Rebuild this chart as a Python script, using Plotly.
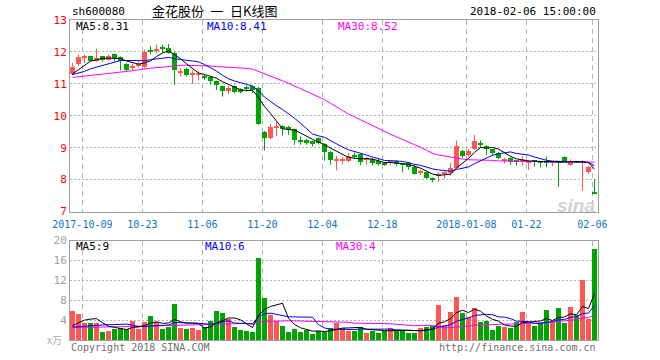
import plotly.graph_objects as go
import pandas as pd

# ---------------- data ----------------
opens = [11.31, 11.63, 11.82, 11.86, 11.73, 11.87, 11.76, 11.92, 11.84, 11.62,
         11.50, 11.55, 11.53, 12.05, 12.05, 12.14, 12.13, 11.97, 11.35, 11.48,
         11.30, 11.30, 11.21, 11.20, 11.09, 10.92, 10.76, 10.92, 10.84, 10.87,
         10.92, 10.86, 9.50, 9.30, 9.61, 9.68, 9.62, 9.58, 9.20, 9.24,
         9.20, 9.30, 9.12, 8.88, 8.59, 8.59, 8.57, 8.76, 8.80, 8.63,
         8.65, 8.57, 8.52, 8.54, 8.57, 8.50, 8.52, 8.40, 8.22, 8.23,
         8.01, 8.10, 8.16, 8.22, 8.36, 8.90, 8.78, 8.95, 9.13, 9.05,
         8.95, 8.83, 8.60, 8.69, 8.59, 8.54, 8.55, 8.59, 8.55, 8.57,
         8.54, 8.56, 8.71, 8.46, 8.57, 8.53, 8.25, 7.58]
highs = [11.65, 11.92, 11.92, 11.88, 12.10, 11.88, 11.92, 11.94, 11.86, 11.65,
         11.63, 11.70, 12.07, 12.18, 12.23, 12.23, 12.25, 12.00, 11.50, 11.50,
         11.42, 11.39, 11.28, 11.22, 11.10, 10.94, 10.92, 10.95, 10.86, 10.95,
         10.94, 10.90, 9.52, 9.74, 9.80, 9.70, 9.68, 9.60, 9.35, 9.28,
         9.22, 9.32, 9.14, 8.90, 8.75, 8.71, 8.83, 8.85, 8.82, 8.71,
         8.68, 8.65, 8.54, 8.60, 8.60, 8.52, 8.55, 8.47, 8.31, 8.25,
         8.07, 8.23, 8.26, 8.52, 9.22, 8.93, 8.96, 9.40, 9.23, 9.08,
         8.97, 8.86, 8.69, 8.70, 8.61, 8.73, 8.62, 8.61, 8.57, 8.72,
         8.58, 8.58, 8.73, 8.63, 8.59, 8.61, 8.43, 8.01]
lows = [11.27, 11.55, 11.65, 11.71, 11.69, 11.69, 11.73, 11.71, 11.42, 11.39,
        11.42, 11.50, 11.50, 11.92, 11.97, 11.97, 11.94, 10.97, 11.23, 11.23,
        10.99, 11.11, 11.12, 10.97, 10.81, 10.60, 10.68, 10.70, 10.70, 10.76,
        10.71, 9.71, 8.91, 9.27, 9.37, 9.38, 9.40, 9.09, 9.09, 9.09,
        9.03, 9.10, 8.59, 8.47, 8.29, 8.47, 8.55, 8.65, 8.45, 8.47,
        8.44, 8.44, 8.43, 8.45, 8.42, 8.23, 8.31, 8.16, 8.14, 8.02,
        7.92, 7.92, 8.02, 8.12, 8.33, 8.68, 8.72, 8.93, 9.02, 8.77,
        8.74, 8.64, 8.51, 8.47, 8.44, 8.44, 8.30, 8.41, 8.38, 8.38,
        8.42, 7.77, 8.56, 8.44, 8.52, 7.65, 8.17, 7.55]
closes = [11.53, 11.83, 11.86, 11.73, 11.81, 11.76, 11.87, 11.81, 11.71, 11.42,
          11.53, 11.62, 12.00, 12.03, 12.08, 12.10, 11.97, 11.42, 11.37, 11.27,
          11.32, 11.32, 11.19, 11.09, 10.97, 10.76, 10.86, 10.74, 10.74, 10.85,
          10.81, 9.74, 9.30, 9.66, 9.69, 9.58, 9.60, 9.24, 9.19, 9.14,
          9.14, 9.16, 8.87, 8.62, 8.61, 8.62, 8.75, 8.74, 8.54, 8.65,
          8.52, 8.50, 8.45, 8.56, 8.50, 8.47, 8.40, 8.18, 8.24, 8.05,
          8.00, 8.19, 8.23, 8.37, 9.04, 8.75, 8.91, 9.21, 9.11, 8.97,
          8.82, 8.67, 8.62, 8.56, 8.57, 8.61, 8.57, 8.57, 8.52, 8.54,
          8.55, 8.54, 8.57, 8.58, 8.56, 8.55, 8.38, 7.55]
volumes = [5.86, 5.26, 3.46, 3.46, 3.46, 1.66, 1.86, 2.26, 2.46, 2.26,
           3.86, 2.26, 3.66, 4.86, 3.66, 2.26, 2.66, 7.26, 2.46, 2.26,
           2.46, 2.06, 2.66, 3.86, 5.86, 5.46, 4.26, 2.66, 2.06, 1.86,
           1.66, 16.66, 8.46, 5.06, 3.86, 2.86, 1.66, 2.26, 1.66, 2.06,
           1.26, 1.86, 1.66, 2.46, 3.50, 2.50, 2.00, 2.00, 2.70, 1.50,
           1.90, 1.50, 1.90, 2.50, 1.90, 1.90, 1.50, 1.50, 2.50, 2.70,
           3.00, 7.07, 3.07, 5.67, 8.67, 5.47, 4.67, 6.47, 3.67, 3.87,
           2.07, 2.87, 2.67, 2.47, 3.67, 5.67, 3.47, 2.87, 3.47, 6.07,
           3.67, 6.47, 3.47, 6.67, 5.07, 12.07, 4.27, 18.47]

# moving-average values at the left edge (window reaches before the chart)
ma5_head = [11.31, 11.44, 11.58, 11.71]
ma10_head = [11.29, 11.34, 11.39, 11.47, 11.52, 11.56, 11.62, 11.68, 11.73]
ma30_head = [11.20, 11.22, 11.24, 11.25, 11.27, 11.29, 11.31, 11.33, 11.36, 11.38,
             11.41, 11.44, 11.47, 11.49, 11.51, 11.52, 11.54, 11.57, 11.58, 11.58,
             11.58, 11.57, 11.57, 11.56, 11.54, 11.53, 11.53, 11.51, 11.50]
vma5_head = [2.9, 3.5, 4.0, 4.2]
vma10_head = [2.6, 2.7, 2.8, 2.9, 3.0, 3.05, 3.1, 3.1, 3.15]
vma30_head = [2.5, 2.5, 2.55, 2.55, 2.6, 2.6, 2.62, 2.65, 2.68, 2.7,
              2.72, 2.75, 2.78, 2.8, 2.82, 2.85, 2.88, 2.92, 2.95, 2.98,
              3.0, 3.03, 3.06, 3.1, 3.14, 3.18, 3.22, 3.26, 3.3]

tick_index = [2, 12, 22, 32, 42, 52, 66, 76, 87]
tick_labels = ["2017-10-09", "10-23", "11-06", "11-20", "12-04", "12-18",
               "2018-01-08", "01-22", "02-06"]
price_ticks = [7, 8, 9, 10, 11, 12, 13]
vol_ticks = [4, 8, 12, 16, 20]

ma_labels = ["MA5:8.31", "MA10:8.41", "MA30:8.52"]
vol_ma_labels = ["MA5:9", "MA10:6", "MA30:4"]

# ---------------- styling ----------------
RED = "#FF5656"
GREEN = "#00A400"
GRID = "#B4B4B4"
BORDER = "#A0A0A0"
MONO = "DejaVu Sans Mono"

n = len(closes)
idx = list(range(n))
up = [c >= o for o, c in zip(opens, closes)]
colors = [RED if u else GREEN for u in up]


def moving(vals, w, head):
    s = pd.Series(vals).rolling(w).mean().tolist()
    return list(head) + s[w - 1:]


ma5 = moving(closes, 5, ma5_head)
ma10 = moving(closes, 10, ma10_head)
ma30 = moving(closes, 30, ma30_head)
vma5 = moving(volumes, 5, vma5_head)
vma10 = moving(volumes, 10, vma10_head)
vma30 = moving(volumes, 30, vma30_head)

fig = go.Figure()

# wicks
for col in (RED, GREEN):
    xs, ys = [], []
    for i in idx:
        if colors[i] == col:
            xs += [i, i, None]
            ys += [lows[i], highs[i], None]
    fig.add_trace(go.Scatter(x=xs, y=ys, mode="lines", line=dict(color=col, width=1),
                             hoverinfo="skip", showlegend=False, xaxis="x", yaxis="y"))

# bodies
body_base = []
body_h = []
for o, c in zip(opens, closes):
    h = abs(c - o)
    if h < 0.03:
        body_base.append(min(o, c) - (0.03 - h) / 2)
        body_h.append(0.03)
    else:
        body_base.append(min(o, c))
        body_h.append(h)
fig.add_trace(go.Bar(x=idx, y=body_h, base=body_base, width=5 / 6,
                     marker=dict(color=colors, line=dict(width=0)),
                     showlegend=False, xaxis="x", yaxis="y"))

# price MAs
for vals, col in ((ma30, "#FF00FF"), (ma10, "#0000FF"), (ma5, "#000000")):
    fig.add_trace(go.Scatter(x=idx, y=vals, mode="lines", line=dict(color=col, width=1),
                             showlegend=False, xaxis="x", yaxis="y"))

# volume
fig.add_trace(go.Bar(x=idx, y=volumes, width=5 / 6,
                     marker=dict(color=colors, line=dict(width=0)),
                     showlegend=False, xaxis="x2", yaxis="y2"))
for vals, col in ((vma30, "#FF00FF"), (vma10, "#0000FF"), (vma5, "#000000")):
    fig.add_trace(go.Scatter(x=idx, y=vals, mode="lines", line=dict(color=col, width=1),
                             showlegend=False, xaxis="x2", yaxis="y2"))

grid_x = [t - 0.35 for t in tick_index]
xr = [-0.417, n - 0.417]

common_x = dict(range=xr, showline=True, mirror=True, linecolor=BORDER, linewidth=1,
                showgrid=True, gridcolor=GRID, griddash="5px,4px", gridwidth=1,
                zeroline=False, tickmode="array", tickvals=grid_x, fixedrange=True)

L, R, T, B = 70, 62, 20, 20
W, H = 660, 360
PW, PH = W - L - R, H - T - B


def px(x):
    return (x - L) / PW


def py(y):
    return (H - B - y) / PH


main_bottom = 211.5
vol_top = 240.5

fig.update_layout(
    width=W, height=H, margin=dict(l=L, r=R, t=T, b=B),
    paper_bgcolor="white", plot_bgcolor="white", barmode="overlay", bargap=0,
    showlegend=False,
    xaxis=dict(common_x, anchor="y", ticktext=tick_labels, showticklabels=True,
               tickfont=dict(family=MONO, size=10, color="#0A74C8"), ticks="",
               ticklabelstandoff=3),
    xaxis2=dict(common_x, anchor="y2", showticklabels=False, matches="x"),
    yaxis=dict(domain=[py(main_bottom), 1], range=[7, 13], tickmode="array",
               tickvals=price_ticks, ticktext=[str(v) for v in price_ticks],
               tickfont=dict(family=MONO, size=11, color="#FF0000"),
               showline=True, mirror=True, linecolor=BORDER, linewidth=1,
               showgrid=True, gridcolor=GRID, griddash="2px,2px", zeroline=False,
               fixedrange=True, ticks=""),
    yaxis2=dict(domain=[0, py(vol_top)], range=[0, 20], tickmode="array",
                tickvals=vol_ticks, ticktext=[str(v) for v in vol_ticks],
                tickfont=dict(family=MONO, size=11, color="#A0A0A0"),
                showline=True, mirror=True, linecolor=BORDER, linewidth=1,
                showgrid=True, gridcolor=GRID, griddash="2px,2px", zeroline=False,
                fixedrange=True, ticks=""),
)

ann = []


def text(x, y, s, color="#000", size=10, family=MONO, xanchor="left", **kw):
    ann.append(dict(x=px(x), y=py(y), xref="paper", yref="paper", text=s, showarrow=False,
                    xanchor=xanchor, yanchor="middle",
                    font=dict(family=family, size=size, color=color), **kw))


text(70, 11, "sh600080", size=11)
text(150, 10.5, "金花股份\u2002一\u2002日K线图", size=13, family="Noto Sans CJK SC")
text(598, 11, "2018-02-06 15:00:00", size=11, xanchor="right")
text(74, 27, ma_labels[0], size=11)
text(205, 27, ma_labels[1], size=11, color="#0000FF")
text(336, 27, ma_labels[2], size=11, color="#FF00FF")
text(74, 246, vol_ma_labels[0], size=11)
text(203, 246, vol_ma_labels[1], size=11, color="#0000FF")
text(334, 246, vol_ma_labels[2], size=11, color="#FF00FF")
text(64, 339, "x万", size=10, color="#B0B0B0", family="Noto Sans CJK SC", xanchor="right")
text(69, 347, "Copyright 2018 SINA.COM", size=10, color="#707070")
text(598, 347, "http://finance.sina.com.cn", size=10, color="#707070", xanchor="right")
text(597, 205, "<b><i>sina</i></b>", size=19, color="#D2D2D2", family="Arial, Liberation Sans",
     xanchor="right")
fig.update_layout(annotations=ann)

fig.write_html("out.html")
